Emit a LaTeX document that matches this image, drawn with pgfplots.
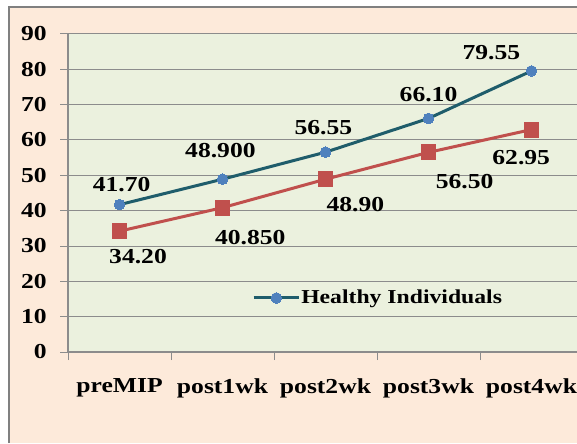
\documentclass[border=0pt]{standalone}
\usepackage{fontspec}
\setmainfont{Liberation Serif}[FakeStretch=1.2]
\usepackage{pgfplots}
\pgfplotsset{compat=1.18}
\definecolor{peach}{RGB}{253,234,218}
\definecolor{plotbg}{RGB}{235,241,222}
\definecolor{gridc}{RGB}{140,140,140}
\definecolor{bordc}{RGB}{128,128,128}
\definecolor{tealline}{RGB}{31,93,107}
\definecolor{bluemark}{RGB}{79,129,189}
\definecolor{redc}{RGB}{192,80,77}
\newcommand{\lf}{\fontsize{16}{19}\selectfont\bfseries}
\newcommand{\legf}{\fontsize{14.8}{18}\selectfont\bfseries}
\begin{document}
\begin{tikzpicture}
\useasboundingbox (0,0) rectangle (432.75pt,332.25pt);
\clip (0,0) rectangle (432.75pt,332.25pt);
\fill[white] (0,0) rectangle (432.75pt,332.25pt);
\fill[peach] (6.4pt,0) rectangle (432.75pt,327pt);
\draw[bordc, line width=1.5pt] (6.4pt,0) -- (6.4pt,327pt) -- (440pt,327pt);
\begin{axis}[
  at={(51pt,68.25pt)}, anchor=south west,
  scale only axis, width=386.25pt, height=238.5pt,
  xmin=-0.5, xmax=4.5, ymin=0, ymax=90,
  axis background/.style={fill=plotbg},
  axis lines*=left,
  axis line style={draw=gridc, line width=0.9pt},
  ytick={0,10,...,90},
  ymajorgrids,
  grid style={gridc, line width=0.75pt},
  xtick={-0.5,0.5,...,4.5},
  xticklabel=\empty,
  extra x ticks={0,1,2,3,4},
  extra x tick labels={preMIP,post1wk,post2wk,post3wk,post4wk},
  extra x tick style={major tick length=0pt, xticklabel style={yshift=-16.5pt}},
  tick align=outside,
  major tick length=6pt,
  tick style={draw=gridc, line width=0.75pt},
  ticklabel style={font=\lf},
  yticklabel style={xshift=-6.5pt},
  /pgf/number format/assume math mode=true,
  legend style={at={(0.357,0.17)}, anchor=west, draw=none, fill=none,
    font=\legf, inner sep=0pt, nodes={inner sep=0.5pt}},
  legend image code/.code={\draw[#1, mark repeat=2, mark phase=2] plot coordinates {(0cm,0cm) (0.6cm,0cm) (1.2cm,0cm)};},
  clip=false,
]
\addplot[tealline, line width=2.25pt, mark=*,
  mark options={fill=bluemark, draw=bluemark, line width=0pt, mark size=4pt}]
  coordinates {(0,41.70) (1,48.90) (2,56.55) (3,66.10) (4,79.55)};
\addlegendentry{Healthy Individuals}
\addplot[forget plot, redc, line width=2.25pt, mark=square*,
  mark options={fill=redc, draw=redc, line width=0pt, mark size=5.6pt}]
  coordinates {(0,34.20) (1,40.85) (2,48.90) (3,56.50) (4,62.95)};
\node[font=\lf] at (axis cs:0.02,47.5) {41.70};
\node[font=\lf] at (axis cs:0.98,57.0) {48.900};
\node[font=\lf] at (axis cs:1.98,63.5) {56.55};
\node[font=\lf] at (axis cs:3.00,72.8) {66.10};
\node[font=\lf] at (axis cs:3.61,84.8) {79.55};
\node[font=\lf] at (axis cs:0.18,26.9) {34.20};
\node[font=\lf] at (axis cs:1.27,32.3) {40.850};
\node[font=\lf] at (axis cs:2.29,41.6) {48.90};
\node[font=\lf] at (axis cs:3.35,48.1) {56.50};
\node[font=\lf] at (axis cs:3.90,54.9) {62.95};
\end{axis}
\end{tikzpicture}
\end{document}
